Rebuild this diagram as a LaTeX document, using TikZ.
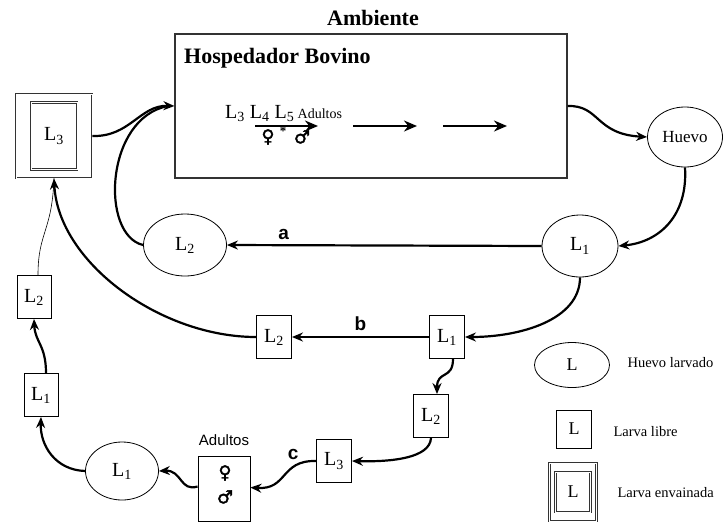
\documentclass[tikz,border=0pt]{standalone}
\usepackage{fontspec}
\setmainfont{Liberation Serif}
\newfontfamily\sansf{Liberation Sans}
\newfontfamily\symf{DejaVu Sans}[FakeBold=2]
\usetikzlibrary{arrows.meta,shapes.geometric}
\newcommand{\Lsub}[1]{L\textsubscript{#1}}
\begin{document}
\begin{tikzpicture}[x=1pt,y=-1pt,
  lab/.style={font=\fontsize{20}{20}\selectfont},
  ell/.style={draw, ellipse, line width=0.8pt, inner sep=0pt, lab},
  sq/.style={draw, rectangle, line width=0.9pt, minimum width=35pt, minimum height=43pt, inner sep=0pt, lab},
  dbl/.style={draw=black!80, double, double distance=0.9pt, line width=0.9pt, rectangle, inner sep=0pt},
  arr/.style={line width=2.2pt, -{Stealth[length=11pt,width=9pt]}},
  thick2/.style={line width=2.2pt},
  letter/.style={font=\sansf\bfseries\fontsize{19}{19}\selectfont},
  legtxt/.style={font=\fontsize{14.5}{14.5}\selectfont, anchor=west},
  sexsym/.style={font=\symf\fontsize{18}{18}\selectfont, inner sep=0pt}
]
\useasboundingbox (0,0) rectangle (728,523);

% titles and host box
\node[font=\bfseries\fontsize{22}{22}\selectfont] (amb) at (373,18) {Ambiente};
\node[draw=black!80, line width=1.2pt, minimum width=392pt, minimum height=144pt, inner sep=0pt] (host) at (371,106) {};
\node[font=\bfseries\fontsize{22}{22}\selectfont, anchor=base west, inner sep=0pt] (hosp) at (184,63) {Hospedador Bovino};
\node[anchor=base west, inner sep=0pt, lab] (stages) at (225,118) {\Lsub{3} \Lsub{4} \Lsub{5}\,{\fontsize{14}{14}\selectfont Adultos}};
\node[sexsym] (fem1) at (268,137) {♀};
\node[font=\fontsize{13}{13}\selectfont\bfseries, inner sep=0pt] (star) at (283,131) {*};
\node[sexsym] (mal1) at (302,137) {♂};
\coordinate (h1a) at (255,126); \coordinate (h1b) at (318,126);
\coordinate (h2a) at (353,126); \coordinate (h2b) at (417,126);
\coordinate (h3a) at (443,126); \coordinate (h3b) at (507,126);
\draw[arr, -{Stealth[length=13pt,width=11pt]}] (h1a) -- (h1b);
\draw[arr, -{Stealth[length=13pt,width=11pt]}] (h2a) -- (h2b);
\draw[arr, -{Stealth[length=13pt,width=11pt]}] (h3a) -- (h3b);

% nodes
\node[dbl, minimum width=76pt, minimum height=84pt] (L3d) at (54,136) {};
\node[dbl, minimum width=46pt, minimum height=67pt, lab] (L3in) at (54,136) {\Lsub{3}};
\node[ell, minimum width=75pt, minimum height=60pt, font=\fontsize{17}{17}\selectfont] (huevo) at (685,137) {Huevo};
\node[ell, minimum width=76pt, minimum height=62pt] (L1e) at (580,246) {\Lsub{1}};
\node[ell, minimum width=83pt, minimum height=62pt] (L2e) at (185,245) {\Lsub{2}};
\node[sq] (L1b) at (447,337) {\Lsub{1}};
\node[sq] (L2b) at (274,337) {\Lsub{2}};
\node[sq] (L2c) at (431,416) {\Lsub{2}};
\node[sq] (L3c) at (334,461) {\Lsub{3}};
\node[sq, minimum width=52pt, minimum height=65pt] (ad) at (224,488.5) {};
\node[font=\sansf\fontsize{15}{15}\selectfont] (adlab) at (224,440) {Adultos};
\node[sexsym] (fem2) at (225,473) {♀};
\node[sexsym] (mal2) at (225,497) {♂};
\node[ell, minimum width=73pt, minimum height=58pt] (L1f) at (122,471) {\Lsub{1}};
\node[sq, minimum width=34pt] (L1g) at (41,395) {\Lsub{1}};
\node[sq, minimum width=34pt] (L2g) at (34,297) {\Lsub{2}};

% legend
\node[ell, minimum width=75pt, minimum height=45pt, font=\fontsize{18}{18}\selectfont] (legE) at (572,365) {L};
\node[legtxt] (legEt) at (624,363) {Huevo larvado};
\node[sq, minimum width=35pt, minimum height=38pt, font=\fontsize{18}{18}\selectfont] (legS) at (574,429) {L};
\node[legtxt] (legSt) at (610,432) {Larva libre};
\node[dbl, minimum width=47pt, minimum height=58pt] (legD) at (573,492) {};
\node[dbl, minimum width=35pt, minimum height=40pt, font=\fontsize{18}{18}\selectfont] (legDin) at (573,492) {L};
\node[legtxt] (legDt) at (614,493) {Larva envainada};

% connectors
\draw[arr] (L3d.east) .. controls (130,137) and (140,105) .. (host.west);
\draw[thick2] (L2e.west) .. controls (100,235) and (105,118) .. (168,106);
\draw[arr] (host.east) .. controls (600,105) and (595,134) .. (huevo.west);
\draw[arr] (huevo.south) .. controls (688,215) and (660,242) .. (L1e.east);
\draw[arr] (L1e.west) -- node[letter, above=1pt, pos=0.82] (a) {a} (L2e.east);
\draw[arr] (L1e.south) .. controls (580,320) and (520,337) .. (L1b.east);
\draw[arr] (L1b.west) -- node[letter, above=2pt] (b) {b} (L2b.east);
\draw[arr] (L2b.west) .. controls (160,337) and (58,262) .. (L3d.south);
\draw[arr] ([xshift=6pt]L1b.south) .. controls (453,380) and (437,370) .. ([xshift=6pt]L2c.north);
\draw[arr] (L2c.south) .. controls (430,458) and (392,462) .. (L3c.east);
\draw[arr] (L3c.west) .. controls (280,460) and (288,490) .. node[letter, pos=0.3, above=3pt] (c) {c} ([yshift=1pt]ad.east);
\draw[arr] ([yshift=2pt]ad.west) .. controls (180,492) and (182,470) .. (L1f.east);
\draw[arr] (L1f.west) .. controls (55,470) and (40,445) .. (L1g.south);
\draw[arr] ([xshift=5pt]L1g.north) .. controls (46,345) and (35,342) .. (L2g.south);
\draw[line width=0.6pt] ([xshift=4pt]L2g.north) .. controls (38,232) and (52,232) .. (L3d.south);
\end{tikzpicture}
\end{document}
